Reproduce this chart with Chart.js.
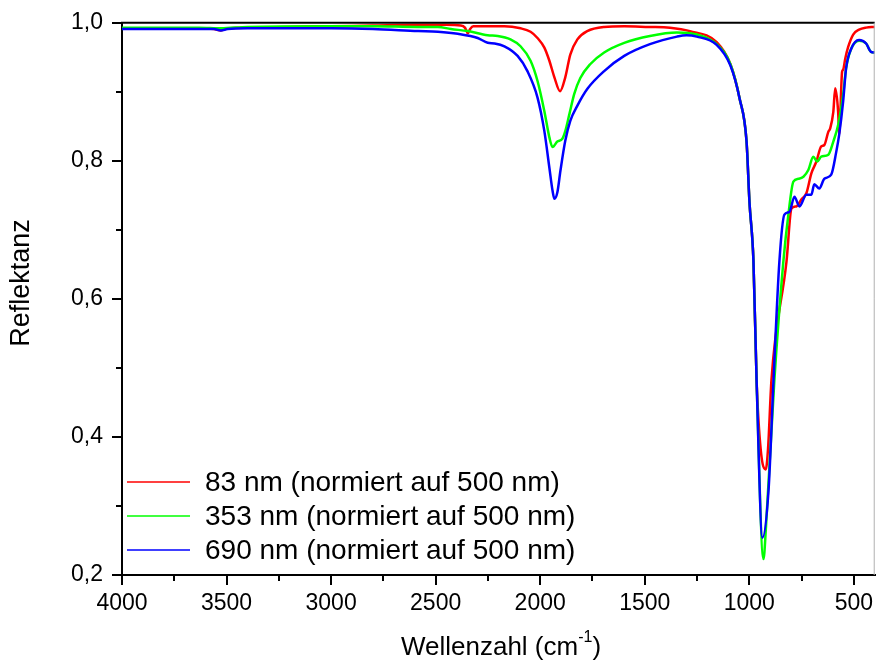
<!DOCTYPE html>
<html>
<head>
<meta charset="utf-8">
<script src="https://cdn.jsdelivr.net/npm/chart.js@4/dist/chart.umd.min.js"></script>
<style>
  html, body { margin: 0; padding: 0; background: #fff; }
  #c { display: block; }
</style>
</head>
<body>
<canvas id="c" width="878" height="668"></canvas>
<script>
// Reflectance spectra, wavenumber in cm^-1 (descending) and reflectance
const wz83 = [4000,3800,3632,3560,3527,3495,3400,3200,3000,2800,2600,2450,2380,2360,2346,2335,2320,2250,2171,2094,2046,2013,1980,1956,1932,1905,1880,1856,1822,1775,1694,1598,1480,1379,1284,1156,1090,1046,1013,999,980,965,945,921,910,894,822,798,775,751,727,703,679,656,641,622,613,598,589,575,570,556,551,541,527,503,475,441,400];
const r83 = [0.992,0.992,0.992,0.991,0.989,0.992,0.993,0.994,0.995,0.996,0.997,0.997,0.996,0.993,0.985,0.991,0.995,0.995,0.995,0.992,0.987,0.978,0.964,0.945,0.921,0.901,0.921,0.954,0.976,0.988,0.994,0.995,0.994,0.993,0.988,0.972,0.940,0.890,0.828,0.740,0.655,0.482,0.381,0.353,0.384,0.482,0.654,0.731,0.734,0.744,0.753,0.782,0.799,0.821,0.823,0.842,0.847,0.871,0.905,0.871,0.838,0.929,0.932,0.948,0.965,0.983,0.990,0.993,0.994];

const wz353 = [4000,3632,3527,3400,3000,2800,2584,2489,2427,2346,2251,2203,2142,2094,2046,2013,1980,1956,1941,1918,1894,1880,1860,1837,1808,1761,1694,1598,1475,1346,1251,1156,1090,1046,1013,999,980,965,932,920,880,837,813,789,765,741,717,694,675,656,622,598,575,551,537,513,475,441,418,400];
const r353 = [0.993,0.993,0.992,0.994,0.995,0.995,0.994,0.994,0.991,0.988,0.982,0.981,0.976,0.966,0.945,0.916,0.872,0.834,0.820,0.828,0.832,0.843,0.868,0.897,0.920,0.940,0.957,0.971,0.981,0.986,0.983,0.969,0.940,0.890,0.828,0.740,0.655,0.482,0.223,0.270,0.482,0.654,0.722,0.770,0.774,0.777,0.787,0.806,0.799,0.806,0.809,0.828,0.852,0.896,0.934,0.962,0.974,0.970,0.958,0.957];

const wz690 = [4000,3632,3560,3527,3495,3400,3000,2800,2584,2489,2394,2299,2251,2218,2171,2108,2061,2013,1980,1956,1941,1932,1918,1903,1880,1856,1822,1775,1694,1598,1475,1346,1300,1251,1156,1090,1046,1013,999,980,965,937,908,884,856,832,808,784,760,727,703,689,665,641,608,584,570,551,537,513,475,441,418,400];
const r690 = [0.991,0.991,0.991,0.989,0.991,0.992,0.992,0.991,0.988,0.987,0.984,0.978,0.971,0.970,0.966,0.952,0.930,0.892,0.843,0.790,0.757,0.745,0.754,0.786,0.829,0.858,0.880,0.904,0.930,0.952,0.969,0.980,0.982,0.980,0.968,0.938,0.890,0.828,0.740,0.655,0.482,0.254,0.322,0.482,0.654,0.722,0.726,0.748,0.734,0.751,0.751,0.766,0.760,0.774,0.780,0.813,0.838,0.886,0.934,0.962,0.975,0.970,0.958,0.957];

const seriesLabels = ['83 nm (normiert auf 500 nm)', '353 nm (normiert auf 500 nm)', '690 nm (normiert auf 500 nm)'];
const seriesColors = ['#ff0000', '#00ff00', '#0000ff'];

// Axis ticks
const xMajor = [4000, 3500, 3000, 2500, 2000, 1500, 1000, 500];
const xMinor = [3750, 3250, 2750, 2250, 1750, 1250, 750];
const yMajor = [0.2, 0.4, 0.6, 0.8, 1.0];
const yMinor = [0.3, 0.5, 0.7, 0.9];

const FONT = '"Liberation Sans", Arial, Helvetica, sans-serif';

const toPoints = (xs, ys) => xs.map((x, i) => ({ x: x, y: ys[i] }));

// Minor ticks, frame, axis titles and legend
const decorations = {
  id: 'decorations',
  afterDraw(chart) {
    const ctx = chart.ctx;
    const area = chart.chartArea;
    const xs = chart.scales.x, ys = chart.scales.y;
    ctx.save();

    // top frame line and thin right edge
    ctx.strokeStyle = '#000';
    ctx.lineWidth = 2;
    ctx.beginPath();
    ctx.moveTo(area.left - 1, area.top);
    ctx.lineTo(area.right, area.top);
    ctx.stroke();
    ctx.strokeStyle = '#b0b0b0';
    ctx.lineWidth = 1;
    ctx.beginPath();
    ctx.moveTo(area.right - 0.5, area.top);
    ctx.lineTo(area.right - 0.5, area.bottom);
    ctx.stroke();

    // minor ticks
    ctx.strokeStyle = '#000';
    ctx.lineWidth = 2;
    ctx.beginPath();
    xMinor.forEach(v => {
      const px = Math.round(xs.getPixelForValue(v));
      ctx.moveTo(px, area.bottom);
      ctx.lineTo(px, area.bottom + 6);
    });
    yMinor.forEach(v => {
      const py = Math.round(ys.getPixelForValue(v));
      ctx.moveTo(area.left, py);
      ctx.lineTo(area.left - 6, py);
    });
    ctx.stroke();

    // y axis title
    ctx.fillStyle = '#000';
    ctx.font = '27px ' + FONT;
    ctx.textAlign = 'center';
    ctx.textBaseline = 'middle';
    ctx.save();
    ctx.translate(22, 283);
    ctx.rotate(-Math.PI / 2);
    ctx.fillText('Reflektanz', 0, 0);
    ctx.restore();

    // x axis title with superscript
    const main = 'Wellenzahl (cm';
    const sup = '-1';
    const close = ')';
    ctx.textBaseline = 'alphabetic';
    ctx.textAlign = 'left';
    ctx.font = '26px ' + FONT;
    const wMain = ctx.measureText(main).width;
    const wClose = ctx.measureText(close).width;
    ctx.font = '16px ' + FONT;
    const wSup = ctx.measureText(sup).width;
    const total = wMain + wSup + wClose;
    let tx = 501 - total / 2;
    const base = 655;
    ctx.font = '26px ' + FONT;
    ctx.fillText(main, tx, base);
    tx += wMain;
    ctx.font = '16px ' + FONT;
    ctx.fillText(sup, tx, base - 13);
    tx += wSup;
    ctx.font = '26px ' + FONT;
    ctx.fillText(close, tx, base);

    // legend
    ctx.font = '28px ' + FONT;
    ctx.textBaseline = 'middle';
    chart.data.datasets.forEach((ds, i) => {
      const ly = 482 + i * 34;
      ctx.strokeStyle = ds.borderColor;
      ctx.lineWidth = 1.6;
      ctx.beginPath();
      ctx.moveTo(area.left + 5, ly);
      ctx.lineTo(area.left + 68, ly);
      ctx.stroke();
      ctx.fillStyle = '#000';
      ctx.fillText(ds.label, area.left + 83, ly + 1);
    });

    ctx.restore();
  }
};

const datasets = [
  { label: seriesLabels[0], data: toPoints(wz83, r83), borderColor: seriesColors[0], order: 3 },
  { label: seriesLabels[1], data: toPoints(wz353, r353), borderColor: seriesColors[1], order: 2 },
  { label: seriesLabels[2], data: toPoints(wz690, r690), borderColor: seriesColors[2], order: 1 }
].map(d => Object.assign(d, {
  borderWidth: 2.5,
  pointRadius: 0,
  fill: false,
  cubicInterpolationMode: 'monotone'
}));

new Chart(document.getElementById('c'), {
  type: 'line',
  data: { datasets: datasets },
  options: {
    responsive: false,
    animation: false,
    devicePixelRatio: 1,
    layout: { padding: { top: 22, right: 0, bottom: 0, left: 0 } },
    plugins: { legend: { display: false }, tooltip: { enabled: false } },
    scales: {
      x: {
        type: 'linear',
        reverse: true,
        min: 400,
        max: 4000,
        afterBuildTicks: s => { s.ticks = xMajor.map(v => ({ value: v })); },
        afterFit: s => { s.height = 93; },
        grid: { drawOnChartArea: false, drawTicks: true, tickLength: 10, color: '#000', lineWidth: 2 },
        border: { display: true, color: '#000', width: 2 },
        ticks: {
          color: '#000',
          font: { family: FONT, size: 23 },
          padding: 5,
          maxRotation: 0,
          autoSkip: false,
          callback: v => String(v)
        }
      },
      y: {
        type: 'linear',
        min: 0.2,
        max: 1.0,
        afterBuildTicks: s => { s.ticks = yMajor.map(v => ({ value: v })); },
        afterFit: s => { s.width = 122; },
        grid: { drawOnChartArea: false, drawTicks: true, tickLength: 10, color: '#000', lineWidth: 2 },
        border: { display: true, color: '#000', width: 2 },
        ticks: {
          color: '#000',
          font: { family: FONT, size: 23 },
          padding: 9,
          autoSkip: false,
          callback: v => v.toFixed(1).replace('.', ',')
        }
      }
    }
  },
  plugins: [decorations]
});
</script>
</body>
</html>
